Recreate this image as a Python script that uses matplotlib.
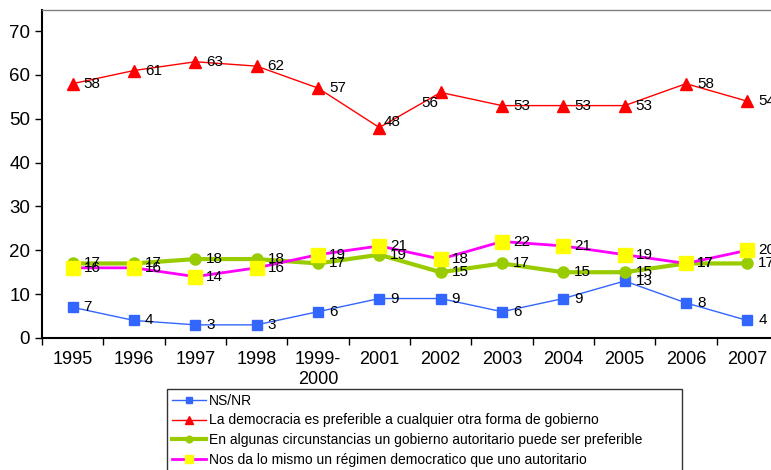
import matplotlib.pyplot as plt

plt.rcParams['font.family'] = ['Liberation Sans', 'DejaVu Sans']

years = ["1995", "1996", "1997", "1998", "1999-\n2000", "2001", "2002",
         "2003", "2004", "2005", "2006", "2007"]
ns_nr = [7, 4, 3, 3, 6, 9, 9, 6, 9, 13, 8, 4]
democracia = [58, 61, 63, 62, 57, 48, 56, 53, 53, 53, 58, 54]
autoritario = [17, 17, 18, 18, 17, 19, 15, 17, 15, 15, 17, 17]
lo_mismo = [16, 16, 14, 16, 19, 21, 18, 22, 21, 19, 17, 20]

labels = [
    "NS/NR",
    "La democracia es preferible a cualquier otra forma de gobierno",
    "En algunas circunstancias un gobierno autoritario puede ser preferible",
    "Nos da lo mismo un régimen democratico que uno autoritario",
]

fig = plt.figure(figsize=(7.71, 4.70), dpi=100)
W, H = 771, 470
# plot area runs past the right edge of the figure
ax = fig.add_axes([42 / W, 132 / H, 736 / W, 328 / H])

x = list(range(len(years)))

ax.plot(x, ns_nr, color="#3366FF", lw=1, marker="s", ms=7,
        mec="#3366FF", mfc="#3366FF", label=labels[0], clip_on=False)
ax.plot(x, democracia, color="#FF0000", lw=1, marker="^", ms=9,
        mec="#FF0000", mfc="#FF0000", label=labels[1], clip_on=False)
ax.plot(x, autoritario, color="#99CC00", lw=3, marker="o", ms=8,
        mec="#99CC00", mfc="#99CC00", label=labels[2], clip_on=False)
ax.plot(x, lo_mismo, color="#FF00FF", lw=2, marker="s", ms=10,
        mec="#FFFF00", mfc="#FFFF00", label=labels[3], clip_on=False)

# data labels to the right of each point
special = {("dem", 5): (4, 6, "left"), ("dem", 6): (-2, -11, "right")}
for key, series in [("ns", ns_nr), ("dem", democracia),
                    ("aut", autoritario), ("mis", lo_mismo)]:
    for i, v in enumerate(series):
        dx, dy, ha = special.get((key, i), (11, 0, "left"))
        ax.annotate(str(v), (i, v), textcoords="offset pixels",
                    xytext=(dx, dy), ha=ha, va="center", fontsize=11,
                    color="black", annotation_clip=False)

ax.set_xlim(-0.5, 11.5)
ax.set_ylim(0, 74.8)
ax.set_yticks(range(0, 71, 10))
ax.set_xticks(x)
ax.set_xticklabels(years, fontsize=13, linespacing=1.25)
ax.set_xticks([i - 0.5 for i in range(13)], minor=True)
ax.tick_params(axis="x", which="major", length=0, pad=9)
ax.tick_params(axis="x", which="minor", length=5, width=1, direction="out")
ax.tick_params(axis="y", length=5, width=1, labelsize=13.5, direction="out")

ax.spines["left"].set_linewidth(1.5)
ax.spines["bottom"].set_linewidth(1.5)
ax.spines["top"].set_color("#808080")
ax.spines["top"].set_linewidth(1)
ax.spines["right"].set_visible(False)

leg = fig.legend(loc="upper left",
                 bbox_to_anchor=(167 / W, 1 - 389 / H - 0.001, 515 / W, 0.001),
                 mode="expand", fontsize=10, frameon=True, fancybox=False,
                 handlelength=2.45, handletextpad=0.2, labelspacing=0.4,
                 borderpad=0.35, borderaxespad=0, markerscale=0.6)
leg.get_frame().set_edgecolor("black")
leg.get_frame().set_linewidth(1)

fig.savefig("out.png", dpi=100)
